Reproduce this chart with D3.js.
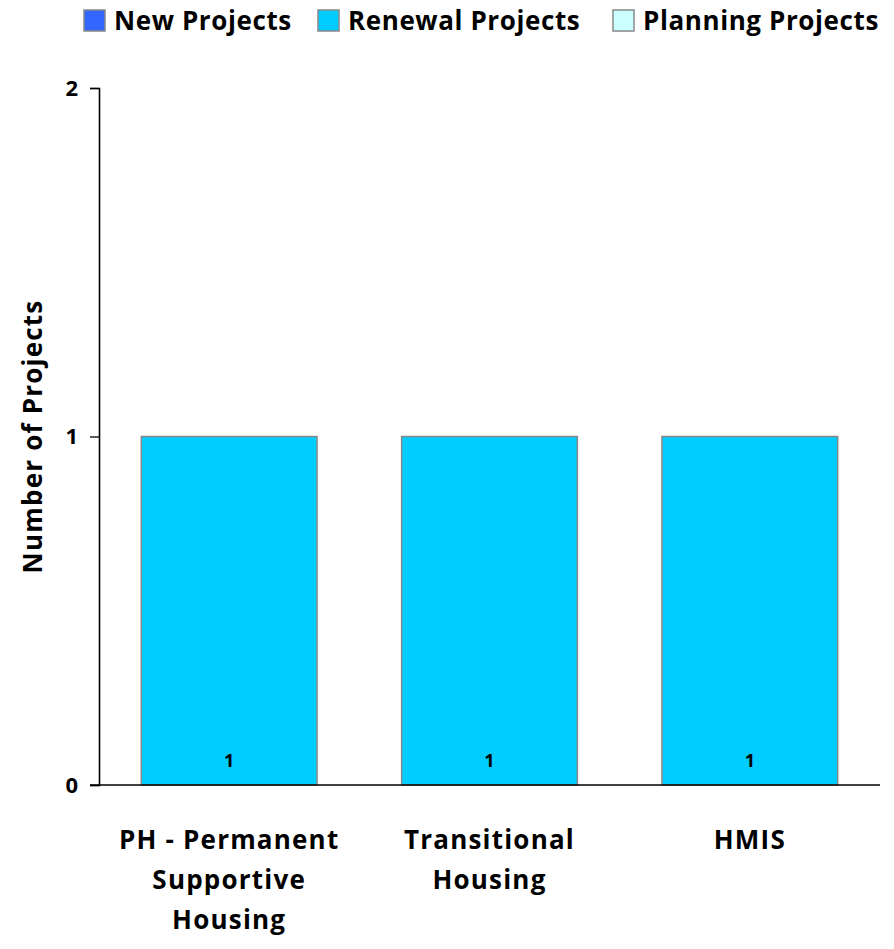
<!DOCTYPE html>
<html>
<head>
<meta charset="utf-8">
<script src="https://cdn.jsdelivr.net/npm/d3@7"></script>
<style>
  body { margin: 0; background: #fff; }
  svg text { font-family: "Open Sans", Calibri, sans-serif; font-weight: bold; fill: #000; }
</style>
</head>
<body>
<div id="chart"></div>
<script>
// ----------------------------------------------------------------------------
// Data
// ----------------------------------------------------------------------------

const categories = [
  ["PH - Permanent", "Supportive", "Housing"],
  ["Transitional", "Housing"],
  ["HMIS"]
]
const seriesNames   = ["New Projects", "Renewal Projects", "Planning Projects"]
const seriesColors  = ["#3366FF", "#00CCFF", "#CCFFFF"]
const newProjects      = [0, 0, 0]
const renewalProjects  = [1, 1, 1]
const planningProjects = [0, 0, 0]
const yTicks = [0, 1, 2]

// ----------------------------------------------------------------------------
// Setup
// ----------------------------------------------------------------------------

const width = 894, height = 949
const margin = { top: 88, right: 14, bottom: 164, left: 99 }

const svg = d3.select("#chart").append("svg")
  .attr("width", width)
  .attr("height", height)

const rows = categories.map((c, i) => ({
  key: i,
  "New Projects": newProjects[i],
  "Renewal Projects": renewalProjects[i],
  "Planning Projects": planningProjects[i]
}))
const stacked = d3.stack().keys(seriesNames)(rows)

const x = d3.scaleBand()
  .domain(categories.map((c, i) => i))
  .range([margin.left, width - margin.right])
  .paddingInner(0.325)
  .paddingOuter(0.1625)

const y = d3.scaleLinear()
  .domain([0, 2])
  .range([height - margin.bottom, margin.top])

// ----------------------------------------------------------------------------
// Bars
// ----------------------------------------------------------------------------

const layer = svg.append("g").selectAll("g")
  .data(stacked)
  .join("g")
  .attr("fill", (d, i) => seriesColors[i])

layer.selectAll("rect")
  .data(d => d.filter(s => s[1] - s[0] > 0))
  .join("rect")
  .attr("x", d => x(d.data.key))
  .attr("y", d => y(d[1]))
  .attr("width", x.bandwidth())
  .attr("height", d => y(d[0]) - y(d[1]))
  .attr("stroke", "#888")
  .attr("stroke-width", 1.5)

// value labels near segment base
layer.selectAll("text")
  .data(d => d.filter(s => s[1] - s[0] > 0))
  .join("text")
  .attr("x", d => x(d.data.key) + x.bandwidth() / 2)
  .attr("y", d => y(d[0]) - 18)
  .attr("text-anchor", "middle")
  .style("font-size", "18px")
  .text(d => d[1] - d[0])

// ----------------------------------------------------------------------------
// Axes
// ----------------------------------------------------------------------------

const yAxis = svg.append("g")
  .attr("transform", `translate(${margin.left},0)`)
  .call(d3.axisLeft(y).tickValues(yTicks).tickFormat(d3.format("d")).tickSize(9).tickPadding(12))
yAxis.select(".domain").attr("stroke", "#000").attr("stroke-width", 1.6)
yAxis.selectAll(".tick line").attr("stroke", "#000").attr("stroke-width", 1.3)
yAxis.selectAll(".tick text")
  .style("font-size", "22px")
  .style("font-family", "'Open Sans', sans-serif")
  .style("font-weight", "bold")
  .attr("fill", "#000")

svg.append("line")
  .attr("x1", margin.left - 9).attr("x2", width - margin.right)
  .attr("y1", y(0)).attr("y2", y(0))
  .attr("stroke", "#000")
  .attr("stroke-width", 1.6)

// category labels
svg.append("g").selectAll("text")
  .data(categories)
  .join("text")
  .attr("text-anchor", "middle")
  .style("font-size", "26px")
  .style("letter-spacing", "1.2px")
  .attr("transform", (d, i) => `translate(${x(i) + x.bandwidth() / 2},849)`)
  .selectAll("tspan")
  .data(d => d)
  .join("tspan")
  .attr("x", 0)
  .attr("y", (d, i) => i * 40)
  .text(d => d)

// y axis title
svg.append("text")
  .attr("transform", `translate(42,${y(1)}) rotate(-90)`)
  .attr("text-anchor", "middle")
  .style("font-size", "26px")
  .style("letter-spacing", "1.2px")
  .text("Number of Projects")

// ----------------------------------------------------------------------------
// Legend
// ----------------------------------------------------------------------------

const legendX = [84, 318, 613]
const legend = svg.append("g").selectAll("g")
  .data(seriesNames)
  .join("g")
  .attr("transform", (d, i) => `translate(${legendX[i]},10)`)

legend.append("rect")
  .attr("width", 21).attr("height", 21)
  .attr("fill", (d, i) => seriesColors[i])
  .attr("stroke", "#888")
  .attr("stroke-width", 1.5)

legend.append("text")
  .attr("x", 30)
  .attr("y", 20)
  .style("font-size", "26px")
  .style("letter-spacing", "0.6px")
  .text(d => d)
</script>
</body>
</html>
